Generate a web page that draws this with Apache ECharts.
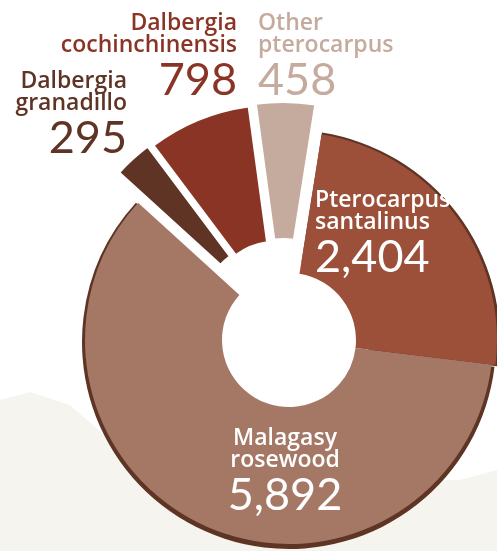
<!DOCTYPE html>
<html>
<head>
<meta charset="utf-8">
<script src="https://cdn.jsdelivr.net/npm/echarts@6/dist/echarts.min.js"></script>
<style>
html,body{margin:0;padding:0;background:#fff;}
#c{width:497px;height:551px;}
</style>
</head>
<body>
<div id="c"></div>
<script>
// ---- data ----
var names = ['Pterocarpus\nsantalinus', 'Malagasy\nrosewood', 'Dalbergia\ngranadillo', 'Dalbergia\ncochinchinensis', 'Other\npterocarpus'];
var values = [2404, 5892, 295, 798, 458];
var exploded = [false, false, true, true, true];
var sliceColors = ['#9c4f39', '#a57866', '#5f3424', '#8a3425', '#c5aa9e'];
var labelColors = ['#ffffff', '#ffffff', '#5f3424', '#8a3425', '#c5aa9e'];
// label anchor: [x, y(top), align]
var labelPos = [[315, 189, 'left'], [285, 427, 'center'], [127, 70, 'right'], [237, 12, 'right'], [258, 12, 'left']];

var NAME_FONT = '"Open Sans", Lato, sans-serif';
var NUM_FONT = 'Lato, "Open Sans", sans-serif';
var rimColor = '#5e3424';
var CENTER = [289, 340];
var START = 81;

function fmt(v) { return v.toLocaleString('en-US'); }

function seriesData(owner, rim) {
  return values.map(function (v, i) {
    var show = owner.indexOf(i) >= 0;
    var col = rim ? rimColor : sliceColors[i];
    return {
      name: names[i],
      value: v,
      selected: !rim && exploded[i],
      itemStyle: {
        color: show ? col : 'rgba(0,0,0,0)',
        borderColor: (show && exploded[i] && !rim) ? '#ffffff' : 'rgba(0,0,0,0)',
        borderWidth: (show && exploded[i] && !rim) ? 2 : 0
      }
    };
  });
}

function pie(opts) {
  return Object.assign({
    type: 'pie',
    silent: true,
    startAngle: START,
    clockwise: true,
    label: { show: false },
    labelLine: { show: false },
    emphasis: { disabled: true, scale: false },
    selectedMode: 'multiple',
    selectedOffset: 34
  }, opts);
}

var texts = values.map(function (v, i) {
  var lines = names[i].split('\n').map(function (s) { return '{n|' + s + '}'; });
  return {
    type: 'text',
    silent: true,
    z: 100,
    x: labelPos[i][0],
    y: labelPos[i][1],
    style: {
      text: lines.join('\n') + '\n{v|' + fmt(v) + '}',
      fill: labelColors[i],
      align: labelPos[i][2],
      verticalAlign: 'top',
      rich: {
        n: { fontFamily: NAME_FONT, fontSize: 23, lineHeight: 22.5, fontWeight: 600, fill: labelColors[i], align: labelPos[i][2] },
        v: { fontFamily: NUM_FONT, fontSize: 45, lineHeight: 46, fontWeight: 'normal', fill: labelColors[i], align: labelPos[i][2] }
      }
    }
  };
});

var chart = echarts.init(document.getElementById('c'), null, { renderer: 'canvas' });
chart.setOption({
  animation: false,
  backgroundColor: '#ffffff',
  graphic: [{
    type: 'polygon',
    z: -10,
    silent: true,
    shape: { points: [[0, 400], [30, 392], [70, 405], [110, 440], [200, 470], [300, 470], [390, 480], [460, 480], [497, 470], [497, 551], [0, 551]] },
    style: { fill: '#f6f4ef' }
  }].concat(texts),
  series: [
    pie({ z: 1, center: [CENTER[0], CENTER[1] + 2], radius: [80, 207], data: seriesData([1], true), selectedMode: false }),
    pie({ z: 1, center: [CENTER[0], CENTER[1] + 1], radius: [80, 211], data: seriesData([0], true), selectedMode: false }),
    pie({ z: 2, center: CENTER, radius: [67, 204], data: seriesData([1, 3], false) }),
    pie({ z: 2, center: CENTER, radius: [67, 208], data: seriesData([0], false) }),
    pie({ z: 3, center: [CENTER[0] + 4, CENTER[1] - 5], radius: [67, 204], data: seriesData([2], false) }),
    pie({ z: 3, center: [CENTER[0] - 6, CENTER[1]], radius: [67, 204], data: seriesData([4], false) })
  ]
});
</script>
</body>
</html>
